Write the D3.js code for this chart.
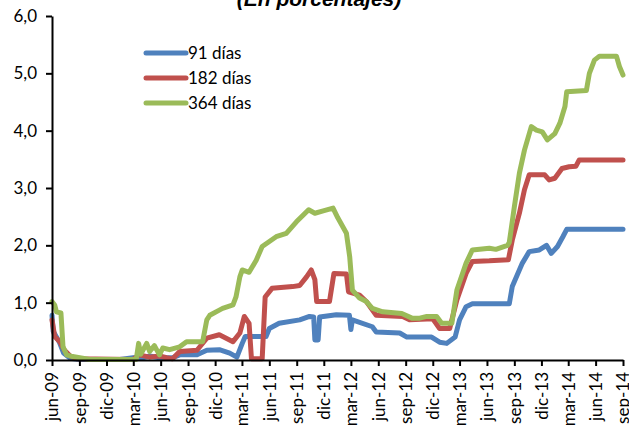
<!DOCTYPE html>
<html>
<head>
<meta charset="utf-8">
<script src="https://cdn.jsdelivr.net/npm/d3@7"></script>
<style>
  html, body { margin: 0; padding: 0; background: #fff; }
  svg { display: block; }
  text { font-family: Lato, "Open Sans", sans-serif; fill: #000; }
</style>
</head>
<body>
<svg id="chart" width="629" height="429"></svg>
<script>
// ---- DATA ----
const title = "(En porcentajes)";
const seriesNames = ["91 días", "182 días", "364 días"];
const seriesColors = ["#4F81BD", "#C0504D", "#9BBB59"];

const xTickLabels = ["jun-09","sep-09","dic-09","mar-10","jun-10","sep-10","dic-10","mar-11","jun-11","sep-11","dic-11","mar-12","jun-12","sep-12","dic-12","mar-13","jun-13","sep-13","dic-13","mar-14","jun-14","sep-14"];
const yTicks = [0, 1, 2, 3, 4, 5, 6];

const data91 = [
  ["2009-06-01",0.78],["2009-06-05",0.50],["2009-06-25",0.32],["2009-07-10",0.12],["2009-08-01",0.03],
  ["2009-09-01",0.01],["2010-01-15",0.01],["2010-02-28",0.04],["2010-03-15",0.05],["2010-03-25",0.03],
  ["2010-04-25",0.07],["2010-05-28",0.04],["2010-07-11",0.04],["2010-08-04",0.09],["2010-10-01",0.09],
  ["2010-11-03",0.17],["2010-12-15",0.18],["2011-01-19",0.12],["2011-02-12",0.05],["2011-03-02",0.29],
  ["2011-03-12",0.41],["2011-05-21",0.41],["2011-06-01",0.55],["2011-07-04",0.64],["2011-09-11",0.70],
  ["2011-10-14",0.76],["2011-10-28",0.75],["2011-11-01",0.35],["2011-11-12",0.35],["2011-11-17",0.75],
  ["2012-01-12",0.79],["2012-02-25",0.78],["2012-03-01",0.53],["2012-03-06",0.70],["2012-05-12",0.58],
  ["2012-05-25",0.49],["2012-08-12",0.47],["2012-09-05",0.40],["2012-11-27",0.40],["2012-12-24",0.31],
  ["2013-01-17",0.29],["2013-02-14",0.40],["2013-03-01",0.70],["2013-03-23",0.93],["2013-04-13",0.98],
  ["2013-08-15",0.98],["2013-08-25",1.28],["2013-09-28",1.69],["2013-10-21",1.89],["2013-11-24",1.92],
  ["2013-12-18",2.00],["2014-01-03",1.86],["2014-01-24",1.98],["2014-02-11",2.15],["2014-02-24",2.28],
  ["2014-09-01",2.28]
];

const data182 = [
  ["2009-06-01",0.70],["2009-06-10",0.41],["2009-06-27",0.32],["2009-07-13",0.17],["2009-08-01",0.07],
  ["2009-08-25",0.02],["2010-02-28",0.01],["2010-03-21",0.09],["2010-04-25",0.05],["2010-05-28",0.07],
  ["2010-06-21",0.04],["2010-07-11",0.02],["2010-08-04",0.15],["2010-10-01",0.17],["2010-11-03",0.38],
  ["2010-12-15",0.44],["2011-01-30",0.32],["2011-02-22",0.47],["2011-03-09",0.76],["2011-03-25",0.64],
  ["2011-04-02",0.02],["2011-05-08",0.02],["2011-05-18",1.10],["2011-06-10",1.25],["2011-08-18",1.28],
  ["2011-09-11",1.30],["2011-10-04",1.45],["2011-10-20",1.57],["2011-11-01",1.40],["2011-11-07",1.02],
  ["2011-12-20",1.02],["2012-01-04",1.51],["2012-02-15",1.50],["2012-02-22",1.19],["2012-03-30",1.13],
  ["2012-04-22",1.02],["2012-05-25",0.78],["2012-08-22",0.76],["2012-09-14",0.70],["2012-12-01",0.72],
  ["2012-12-24",0.55],["2013-01-27",0.55],["2013-02-20",1.05],["2013-03-23",1.51],["2013-04-13",1.72],
  ["2013-06-09",1.73],["2013-08-12",1.75],["2013-08-25",2.09],["2013-09-18",2.56],["2013-10-05",2.97],
  ["2013-10-21",3.23],["2013-12-12",3.23],["2013-12-27",3.14],["2014-01-15",3.17],["2014-02-08",3.34],
  ["2014-03-04",3.37],["2014-03-27",3.38],["2014-04-07",3.49],["2014-09-01",3.49]
];

const data364 = [
  ["2009-06-01",1.02],["2009-06-10",0.96],["2009-06-16",0.84],["2009-07-01",0.82],["2009-07-08",0.23],
  ["2009-07-20",0.09],["2009-08-09",0.06],["2009-09-12",0.03],["2009-10-06",0.01],["2010-03-11",0.01],
  ["2010-03-19",0.29],["2010-03-26",0.10],["2010-04-15",0.29],["2010-04-25",0.15],["2010-05-11",0.25],
  ["2010-05-28",0.09],["2010-06-08",0.21],["2010-07-01",0.18],["2010-08-04",0.23],["2010-08-27",0.32],
  ["2010-10-20",0.32],["2010-11-03",0.70],["2010-11-13",0.78],["2010-12-15",0.87],["2010-12-26",0.90],
  ["2011-01-30",0.96],["2011-02-09",1.10],["2011-02-22",1.45],["2011-03-02",1.57],["2011-03-25",1.53],
  ["2011-04-18",1.74],["2011-05-08",1.98],["2011-06-24",2.15],["2011-07-28",2.21],["2011-08-31",2.41],
  ["2011-10-11",2.62],["2011-11-01",2.56],["2011-11-29",2.60],["2012-01-01",2.65],["2012-01-17",2.48],
  ["2012-02-15",2.21],["2012-02-26",1.80],["2012-03-06",1.22],["2012-03-30",1.08],["2012-04-22",1.02],
  ["2012-05-12",0.90],["2012-06-16",0.84],["2012-08-19",0.81],["2012-09-22",0.73],["2012-10-18",0.73],
  ["2012-11-11",0.76],["2012-12-14",0.76],["2012-12-31",0.64],["2013-02-03",0.64],["2013-02-20",1.22],
  ["2013-03-23",1.69],["2013-04-13",1.92],["2013-06-09",1.95],["2013-07-01",1.93],["2013-08-09",2.00],
  ["2013-08-15",2.05],["2013-09-01",2.67],["2013-09-18",3.26],["2013-10-05",3.66],["2013-10-28",4.07],
  ["2013-11-14",4.01],["2013-12-04",3.98],["2013-12-21",3.84],["2014-01-15",3.95],["2014-02-01",4.13],
  ["2014-02-18",4.42],["2014-02-24",4.68],["2014-05-01",4.70],["2014-05-11",5.00],["2014-05-28",5.23],
  ["2014-06-14",5.30],["2014-08-10",5.30],["2014-08-20",5.12],["2014-09-01",4.97]
];

const allSeries = [data91, data182, data364];

// ---- CHART ----
const svg = d3.select("#chart");
const parse = d3.timeParse("%Y-%m-%d");
const monthIdx = {ene:0,feb:1,mar:2,abr:3,may:4,jun:5,jul:6,ago:7,sep:8,oct:9,nov:10,dic:11};
const labelToDate = s => { const [m, yy] = s.split("-"); return new Date(2000 + (+yy), monthIdx[m], 1); };
const xTickDates = xTickLabels.map(labelToDate);

const x = d3.scaleTime()
  .domain([xTickDates[0], xTickDates[xTickDates.length - 1]])
  .range([52, 623]);
const y = d3.scaleLinear().domain([0, 6]).range([360, 16]);

const locale = d3.formatLocale({decimal: ",", thousands: ".", grouping: [3], currency: ["", "€"]});
const fmt = locale.format(".1f");

// title (partially cut at top, as in the reference)
svg.append("text")
  .attr("x", 319).attr("y", 6)
  .attr("text-anchor", "middle")
  .style("font-family", "'Liberation Sans', Arial, sans-serif")
  .style("font-weight", "bold").style("font-style", "italic")
  .style("font-size", "21px")
  .text(title);

// lines
const line = d3.line()
  .x(d => x(parse(d[0])))
  .y(d => y(d[1]));

allSeries.forEach((s, i) => {
  svg.append("path")
    .datum(s)
    .attr("fill", "none")
    .attr("stroke", seriesColors[i])
    .attr("stroke-width", 5)
    .attr("stroke-linejoin", "round")
    .attr("stroke-linecap", "round")
    .attr("d", line);
});

// y axis
const yAxis = svg.append("g")
  .attr("transform", "translate(52,0)")
  .call(d3.axisLeft(y).tickValues(yTicks).tickFormat(fmt).tickSize(6).tickSizeOuter(0).tickPadding(9));
yAxis.select(".domain").attr("stroke", "#000").attr("stroke-width", 2);
yAxis.selectAll(".tick line").attr("stroke", "#000").attr("stroke-width", 2);
yAxis.selectAll("text").style("font-size", "17px").style("font-family", "Lato, sans-serif").attr("fill", "#000");

// x axis
const xAxis = svg.append("g")
  .attr("transform", "translate(0,360)")
  .call(d3.axisBottom(x).tickValues(xTickDates).tickFormat((d, i) => xTickLabels[i]).tickSize(6).tickSizeOuter(0));
xAxis.select(".domain").attr("stroke", "#000").attr("stroke-width", 2);
xAxis.selectAll(".tick line").attr("stroke", "#000").attr("stroke-width", 2);
xAxis.selectAll("text")
  .style("font-size", "17px").style("font-family", "Lato, sans-serif").attr("fill", "#000")
  .attr("transform", "rotate(-90)")
  .attr("text-anchor", "end")
  .attr("x", -12).attr("y", 0).attr("dy", "0.35em");

// legend
const legendY = [53, 78, 103];
seriesNames.forEach((name, i) => {
  svg.append("line")
    .attr("x1", 146).attr("x2", 186)
    .attr("y1", legendY[i]).attr("y2", legendY[i])
    .attr("stroke", seriesColors[i]).attr("stroke-width", 5).attr("stroke-linecap", "round");
  svg.append("text")
    .attr("x", 188).attr("y", legendY[i]).attr("dy", "0.35em")
    .style("font-size", "17px")
    .text(name);
});
</script>
</body>
</html>
